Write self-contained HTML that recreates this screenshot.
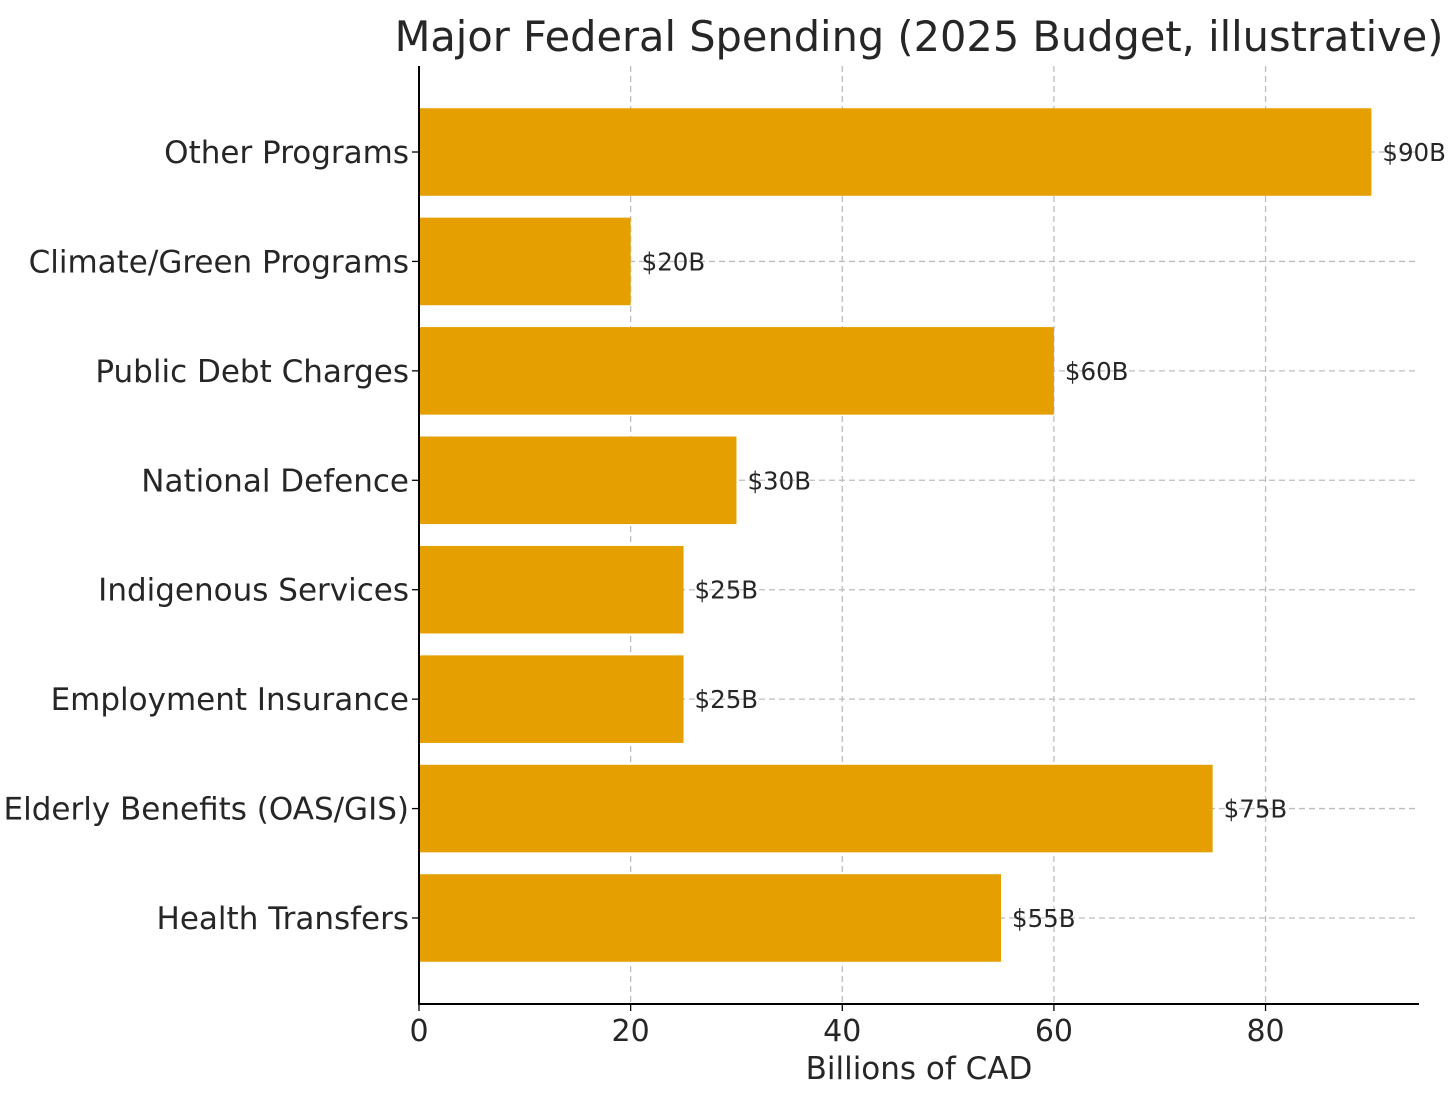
<!DOCTYPE html>
<html><head><meta charset="utf-8"><style>
html,body{margin:0;padding:0;background:#fff;}
svg{display:block;font-family:"DejaVu Sans","Liberation Sans",sans-serif;}
</style></head><body>
<svg id="chart" width="1456" height="1100" viewBox="0 0 1456 1100">
<text x="919" y="51" text-anchor="middle" font-size="41.5" fill="#262626">Major Federal Spending (2025 Budget, illustrative)</text>
<g id="grid"></g>
<g id="bars"></g>
<g id="axes"></g>
<text x="919" y="1079" text-anchor="middle" font-size="31" fill="#262626">Billions of CAD</text>
</svg>
<script>
const categories = ["Health Transfers","Elderly Benefits (OAS/GIS)","Employment Insurance","Indigenous Services","National Defence","Public Debt Charges","Climate/Green Programs","Other Programs"];
const values = [55,75,25,25,30,60,20,90];
const valueLabels = ["$55B","$75B","$25B","$25B","$30B","$60B","$20B","$90B"];
const xTicks = [0,20,40,60,80];

const NS="http://www.w3.org/2000/svg";
const L=419,R=1419,T=66,B=1004;
const xMax=94.5, yMin=-0.786, yMax=categories.length-1+0.786;
const xs=v=>L+(v/xMax)*(R-L);
const ys=i=>B-(i-yMin)/(yMax-yMin)*(B-T);
const band=(B-T)/(yMax-yMin);
function mk(tag,attrs,parent){const e=document.createElementNS(NS,tag);for(const k in attrs)e.setAttribute(k,attrs[k]);parent.appendChild(e);return e;}
const grid=document.getElementById('grid'),bars=document.getElementById('bars'),axes=document.getElementById('axes');
xTicks.forEach(t=>{
  const g=mk('line',{x1:xs(t),x2:xs(t),y1:T,y2:B,stroke:'#bdbdbd','stroke-width':1.3,'stroke-dasharray':'6,4'},grid);
  
  
  const tk=mk('line',{x1:xs(t),x2:xs(t),y1:B,y2:B+7,stroke:'#000','stroke-width':1.3},axes);
  
  
  const tl=mk('text',{x:xs(t),y:B+37,'text-anchor':'middle','font-size':30,fill:'#262626'},axes);
  tl.textContent=t;
  
  
});
categories.forEach((c,i)=>{
  const y=ys(i);
  const g=mk('line',{x1:L,x2:R,y1:y,y2:y,stroke:'#bdbdbd','stroke-width':1.3,'stroke-dasharray':'6,4'},grid);
  
  
  const h=band*0.8;
  const r=mk('rect',{x:L,y:y-h/2,width:xs(values[i])-L,height:h,fill:'#e69f00'},bars);
  
  
  const vl=mk('text',{x:xs(values[i])+11,y:y+9,'font-size':24.5,fill:'#262626'},bars);
  vl.textContent=valueLabels[i];
  
  
  const tk=mk('line',{x1:L-7,x2:L,y1:y,y2:y,stroke:'#000','stroke-width':1.3},axes);
  
  
  const tl=mk('text',{x:L-10,y:y+11,'text-anchor':'end','font-size':31,fill:'#262626'},axes);
  tl.textContent=c;
  
  
});
const ax1=mk('line',{x1:L,x2:L,y1:T,y2:B+1,stroke:'#000','stroke-width':2},axes);


const ax2=mk('line',{x1:L-1,x2:R,y1:B,y2:B,stroke:'#000','stroke-width':2},axes);


</script>
</body></html>
